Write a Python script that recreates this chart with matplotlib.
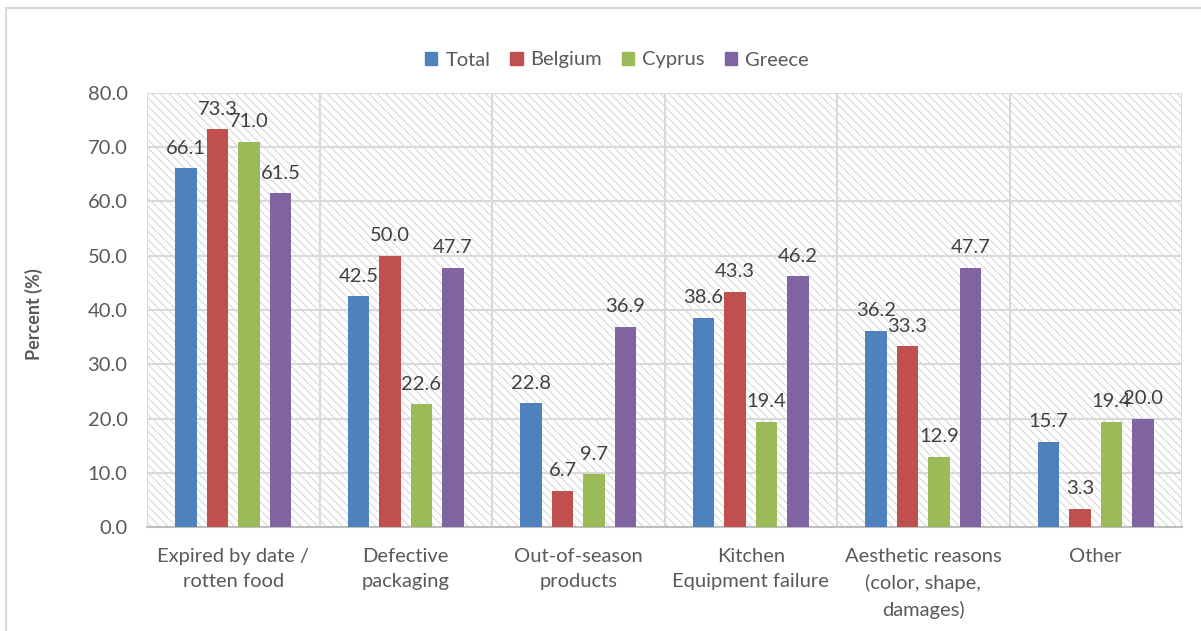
import numpy as np
import matplotlib
matplotlib.use("Agg")
import matplotlib.pyplot as plt
from matplotlib.patches import Patch, Rectangle

categories = ["Expired by date /\nrotten food", "Defective\npackaging",
              "Out-of-season\nproducts", "Kitchen\nEquipment failure",
              "Aesthetic reasons\n(color, shape,\ndamages)", "Other"]
series = ["Total", "Belgium", "Cyprus", "Greece"]
total = [66.1, 42.5, 22.8, 38.6, 36.2, 15.7]
belgium = [73.3, 50.0, 6.7, 43.3, 33.3, 3.3]
cyprus = [71.0, 22.6, 9.7, 19.4, 12.9, 19.4]
greece = [61.5, 47.7, 36.9, 46.2, 47.7, 20.0]
values = [total, belgium, cyprus, greece]
colors = ["#4F81BD", "#C0504D", "#9BBB59", "#8064A2"]

txt = "#595959"
plt.rcParams['font.family'] = ['Lato', 'DejaVu Sans']
plt.rcParams['hatch.linewidth'] = 0.7
plt.rcParams['hatch.color'] = '#d4d4d4'

fig = plt.figure(figsize=(12.01, 6.31), dpi=100)
# outer chart frame (only left/top edges visible in the crop)
fig.patches.append(Rectangle((6 / 1201, -0.1), 1.2, 1 - 8 / 631 + 0.1,
                             transform=fig.transFigure, fill=False,
                             edgecolor='#d9d9d9', lw=1.5))

ax = fig.add_axes([147 / 1201, 1 - 527 / 631, 1035 / 1201, 434 / 631])
ax.patch.set_facecolor('white')
ax.patch.set_hatch('\\\\\\\\')
ax.patch.set_edgecolor('#d4d4d4')

x = np.arange(len(categories))
step = 0.1826
width = 0.122
for i, (name, vals, c) in enumerate(zip(series, values, colors)):
    pos = x + (i - 1.5) * step
    ax.bar(pos, vals, width, color=c, label=name, zorder=3)
    for xp, v in zip(pos, vals):
        ax.annotate(f"{v:.1f}", (xp, v), xytext=(0, 8.5), textcoords='offset points',
                    ha='center', va='bottom', fontsize=14.5, color='#404040', zorder=4)

ax.set_xlim(-0.5, 5.5)
ax.set_ylim(0, 80)
ax.set_yticks(np.arange(0, 81, 10))
ax.set_yticklabels([f"{t:.1f}" for t in np.arange(0, 81, 10)])
ax.set_xticks(x)
ax.set_xticklabels(categories, linespacing=1.6)
ax.set_xticks(np.arange(-0.5, 6, 1), minor=True)
ax.grid(axis='y', color='#d9d9d9', lw=1.5, zorder=1)
ax.grid(axis='x', which='minor', color='#d9d9d9', lw=1.5, zorder=1)
ax.tick_params(axis='both', which='both', length=0, colors=txt, labelsize=14.5)
ax.tick_params(axis='x', pad=15)
ax.tick_params(axis='y', pad=14)
for s in ['top', 'right', 'left']:
    ax.spines[s].set_visible(False)
ax.spines['bottom'].set_color('#bfbfbf')
ax.spines['bottom'].set_linewidth(1.5)
ax.set_axisbelow(True)

ax.set_ylabel("Percent (%)", fontsize=13, fontweight='bold', color=txt)
ax.yaxis.set_label_coords(-0.1005, 0.49)

handles = [Patch(color=c) for c in colors]
fig.legend(handles, series, loc='center', bbox_to_anchor=(617 / 1201, 1 - 60 / 631),
           ncol=4, frameon=False, fontsize=14.5, handlelength=0.6, handleheight=0.6,
           handletextpad=0.4, columnspacing=1.0, labelcolor=txt)

fig.savefig("out.png", dpi=100)
